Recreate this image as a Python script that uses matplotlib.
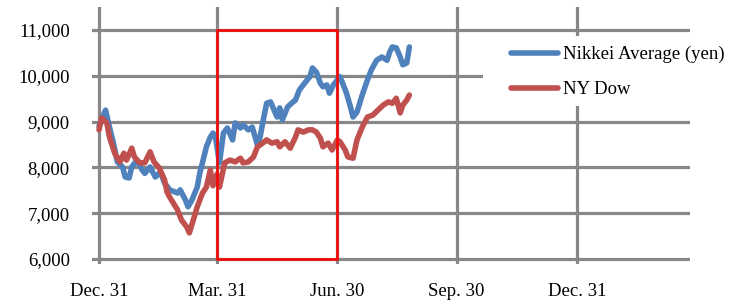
import matplotlib
matplotlib.use("Agg")
import matplotlib.pyplot as plt
from matplotlib.patches import Rectangle

plt.rcParams['font.family'] = ['Liberation Serif', 'DejaVu Serif']

# Days elapsed since Dec. 31 and index values
nikkei_days = [0, 2, 5, 7, 8, 11, 14, 18, 20, 23, 25, 29, 33, 35, 39, 43, 47, 50, 54, 60, 62, 66, 68, 71,
               75, 77, 79, 82, 85, 87, 89, 92, 95, 98, 102, 104, 108, 110, 114, 117, 121, 123, 125, 128,
               131, 133, 136, 138, 140, 144, 147, 150, 153, 157, 161, 163, 166, 169, 171, 174, 176, 179,
               182, 184, 186, 189, 192, 194, 197, 201, 205, 208, 212, 216, 220, 222, 224, 227, 230, 232,
               235, 237]
nikkei_vals = [8900, 9050, 9250, 9000, 8880, 8530, 8120, 8010, 7790, 7770, 8010, 8160, 7940, 7870, 8010,
               7790, 7900, 7660, 7510, 7440, 7510, 7290, 7140, 7290, 7570, 7880, 8100, 8450, 8660, 8750,
               8650, 8100, 8750, 8860, 8600, 8970, 8860, 8930, 8820, 8880, 8490, 8660, 8970, 9400, 9430,
               9300, 9100, 9300, 9040, 9320, 9400, 9470, 9690, 9840, 9980, 10170, 10080, 9840, 9760, 9800,
               9620, 9800, 9910, 9980, 9840, 9620, 9320, 9100, 9210, 9580, 9910, 10130, 10340, 10410,
               10340, 10520, 10630, 10610, 10410, 10240, 10280, 10630]

dow_days = [0, 2, 6, 8, 12, 16, 19, 21, 25, 27, 31, 35, 39, 42, 46, 50, 52, 54, 60, 63, 67, 69, 72, 75,
            79, 82, 85, 87, 90, 92, 96, 100, 104, 108, 110, 114, 118, 121, 125, 128, 132, 136, 138, 142,
            146, 150, 152, 156, 160, 163, 166, 169, 171, 175, 178, 182, 184, 188, 190, 194, 197, 201,
            205, 209, 213, 217, 221, 224, 227, 230, 232, 235, 237]
dow_vals = [8820, 9080, 8970, 8660, 8310, 8120, 8310, 8160, 8420, 8230, 8100, 8100, 8340, 8120, 7990,
            7730, 7460, 7350, 7070, 6850, 6700, 6570, 6850, 7140, 7440, 7570, 7940, 7600, 7850, 7570,
            8100, 8160, 8120, 8200, 8100, 8120, 8230, 8450, 8530, 8600, 8530, 8560, 8450, 8560, 8420,
            8660, 8820, 8770, 8820, 8820, 8770, 8640, 8450, 8530, 8380, 8600, 8560, 8380, 8230, 8200,
            8600, 8880, 9100, 9140, 9250, 9360, 9430, 9400, 9510, 9190, 9360, 9470, 9580]

tick_days = [0, 90, 182, 273, 365]
tick_labels = ['Dec. 31', 'Mar. 31', 'Jun. 30', 'Sep. 30', 'Dec. 31']
y_ticks = [6000, 7000, 8000, 9000, 10000, 11000]
highlight_days = (90, 182)
highlight_vals = (6000, 11000)

W, H = 736, 304
fig = plt.figure(figsize=(W / 100, H / 100), dpi=100)
ax = fig.add_axes([92 / W, 1 - 264 / H, (690 - 92) / W, (264 - 7) / H])

grid_c = '#878787'
ax.set_xlim(-5.35, 451.3)
ax.set_ylim(5891, 11502)
ax.set_xticks(tick_days)
ax.set_xticklabels(tick_labels)
ax.set_yticks(y_ticks)
ax.set_yticklabels([f'{v:,}' for v in y_ticks])
ax.grid(True, color=grid_c, linewidth=2.3, zorder=0)
ax.set_axisbelow(True)
for s in ax.spines.values():
    s.set_visible(False)
ax.tick_params(axis='both', length=0, labelsize=13.5, colors='black')
ax.tick_params(axis='y', pad=16)
ax.tick_params(axis='x', pad=14)

blue = '#4F81BD'
red = '#C0504D'
ax.plot(dow_days, dow_vals, color=red, linewidth=4.0, solid_joinstyle='round',
        solid_capstyle='round', label='NY Dow', zorder=3)
ax.plot(nikkei_days, nikkei_vals, color=blue, linewidth=4.0, solid_joinstyle='round',
        solid_capstyle='round', label='Nikkei Average (yen)', zorder=2)

ax.add_patch(Rectangle((highlight_days[0], highlight_vals[0]),
                       highlight_days[1] - highlight_days[0],
                       highlight_vals[1] - highlight_vals[0],
                       fill=False, edgecolor='#FF0000', linewidth=1.8, zorder=4))

# white legend area
fig.patches.append(Rectangle((483 / W, 1 - 106 / H), 1 - 483 / W, 70 / H,
                             transform=fig.transFigure, facecolor='white',
                             edgecolor='none', zorder=5))

handles, labels = ax.get_legend_handles_labels()
order = [1, 0]
leg = fig.legend([handles[i] for i in order], [labels[i] for i in order],
                 loc='upper left', bbox_to_anchor=(511 / W, 1 - 46 / H),
                 frameon=False, fontsize=13.5, handlelength=2.5, handletextpad=0.28,
                 labelspacing=0.95, borderpad=0, borderaxespad=0)
leg.set_zorder(6)

fig.savefig('out.png', dpi=100)
